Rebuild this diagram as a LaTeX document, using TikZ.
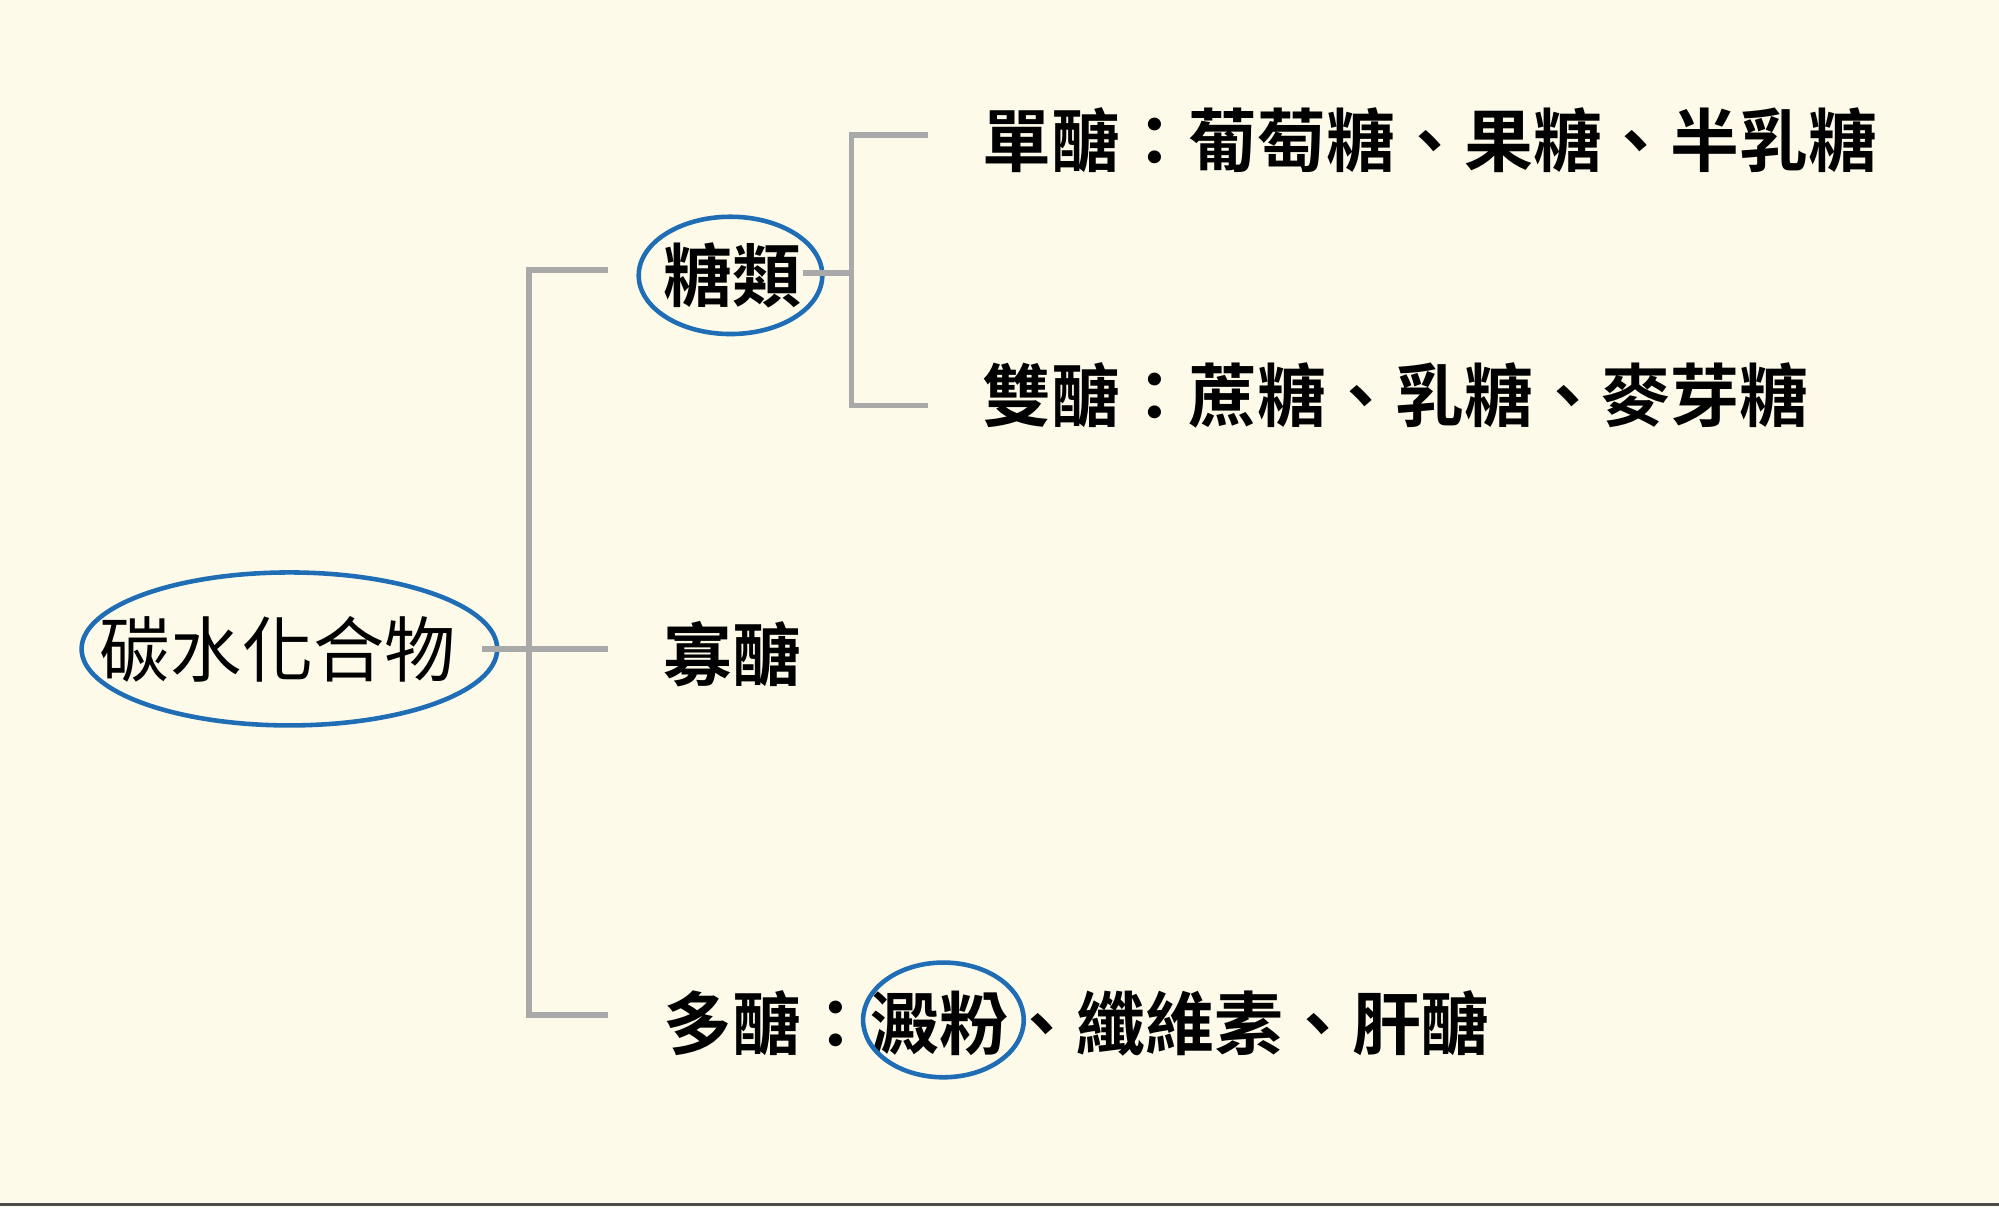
\documentclass[tikz,border=0pt]{standalone}
\usepackage{fontspec}
\newfontfamily\cjk{Noto Sans CJK TC}
\newfontfamily\cjkb{Noto Sans CJK TC Bold}
\definecolor{bg}{HTML}{FDFAEA}
\definecolor{ln}{HTML}{A9A9A9}
\definecolor{bl}{HTML}{1F6DB4}
\begin{document}
\begin{tikzpicture}[x=0.01275cm,y=-0.01275cm,
  conn/.style={draw=ln,line width=1.6pt},
  lbl/.style={anchor=west,inner sep=0pt,font=\cjkb\fontsize{19.6}{24}\selectfont}]
\fill[bg] (0,0) rectangle (1568,947);
\useasboundingbox (0,0) rectangle (1568,947);
\draw[black!70,line width=0.8pt] (0,945) -- (1568,945);
\draw[bl,line width=1.3pt] (227,509) ellipse [x radius=163,y radius=60];
\node (root) at (218,509) {\cjk\fontsize{20.3}{24}\selectfont 碳水化合物};
\coordinate (rr) at (378,509);
\draw[bl,line width=1.3pt] (573,216) ellipse [x radius=72,y radius=46];
\node[lbl] (tl) at (520,216) {糖類};
\node[lbl] (dan) at (770,110) {單醣：葡萄糖、果糖、半乳糖};
\node[lbl] (shuang) at (770,310) {雙醣：蔗糖、乳糖、麥芽糖};
\node[lbl] (gua) at (520,513) {寡醣};
\node[lbl] (duo) at (520,803) {多醣：澱粉、纖維素、肝醣};
\draw[bl,line width=1.3pt] (740,800) ellipse [x radius=63,y radius=45];
\coordinate (a2) at (415,212);
\coordinate (a3) at (415,796);
\coordinate (b1) at (668,214);
\coordinate (b2) at (668,106);
\coordinate (b3) at (668,318);
\draw[conn] (rr) -- (477,509);
\draw[conn] (477,212) -- (a2) -- (a3) -- (477,796);
\draw[conn] (630,214) -- (b1);
\draw[conn] (728,106) -- (b2) -- (b3) -- (728,318);
\end{tikzpicture}
\end{document}
